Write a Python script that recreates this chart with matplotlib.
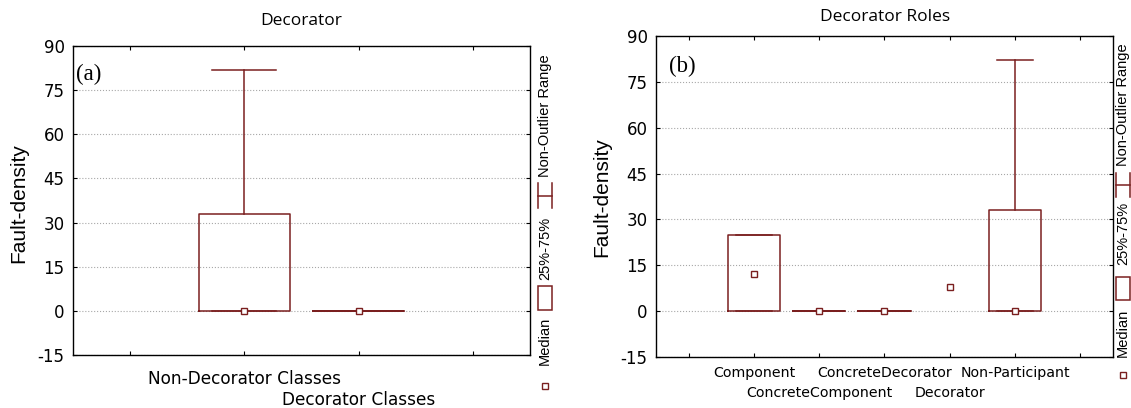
import numpy as np
import matplotlib
matplotlib.use("Agg")
import matplotlib.pyplot as plt
from matplotlib.patches import Rectangle
from matplotlib.lines import Line2D

W, H = 1131, 408
RED = "#7a1f1f"

# panel (a): Decorator
a_labels = ["Non-Decorator Classes", "Decorator Classes"]
a_q1 = [0, 0]
a_q3 = [33, 0]
a_med = [0, 0]
a_lo = [0, 0]
a_hi = [82, 0]

# panel (b): Decorator Roles (Decorator has only a median point)
b_labels = ["Component", "ConcreteComponent", "ConcreteDecorator", "Decorator", "Non-Participant"]
b_q1 = [0, 0, 0, np.nan, 0]
b_q3 = [25, 0, 0, np.nan, 33]
b_med = [12, 0, 0, 8, 0]
b_lo = [0, 0, 0, np.nan, 0]
b_hi = [25, 0, 0, np.nan, 82]

yticks = np.arange(-15, 91, 15)

plt.rcParams['font.family'] = 'DejaVu Sans'
fig = plt.figure(figsize=(W / 100, H / 100), dpi=100)


def fx(x):
    return x / W


def fy(y):
    return 1 - y / H


def panel(ax, labels, q1, q3, med, lo, hi, fs, pad1, pad2):
    n = len(labels)
    pos = np.arange(1, n + 1)
    stats, bpos = [], []
    for i in range(n):
        if np.isnan(q1[i]):
            continue
        stats.append(dict(med=med[i], q1=q1[i], q3=q3[i], whislo=lo[i], whishi=hi[i], fliers=[]))
        bpos.append(pos[i])
    lp = dict(color=RED, lw=1.1)
    ax.bxp(stats, positions=bpos, widths=0.8, capwidths=0.56, showfliers=False,
           boxprops=lp, whiskerprops=lp, capprops=lp, medianprops=dict(visible=False))
    ax.plot(pos, med, ls='none', marker='s', ms=3.8, mfc='white', mec=RED, mew=1, zorder=5)
    ax.set_xlim(-0.5, n + 1.5)
    # first row of labels on major ticks, second (staggered) row on minor ticks
    major = [0] + list(pos[::2]) + [n + 1]
    ax.set_xticks(major)
    ax.set_xticklabels([""] + labels[::2] + [""], fontsize=fs)
    ax.set_xticks(pos[1::2], minor=True)
    ax.set_xticklabels(labels[1::2], minor=True, fontsize=fs)
    ax.set_ylim(-15, 90)
    ax.set_yticks(yticks)
    ax.set_yticklabels([str(v) for v in yticks], fontsize=12)
    ax.grid(axis='y', ls=':', color='#a8a8a8', lw=0.8)
    ax.set_axisbelow(True)
    ax.tick_params(which='both', direction='in', length=3, top=True, right=True, width=0.8)
    ax.tick_params(axis='x', which='major', pad=pad1)
    ax.tick_params(axis='x', which='minor', pad=pad2)
    ax.tick_params(axis='y', pad=6)
    for s in ax.spines.values():
        s.set_linewidth(1)


def legend(xc, ym, ytxt_med, box, ytxt_box, wh, ytxt_wh, size):
    fig.add_artist(Line2D([fx(xc)], [fy(ym)], ls='none', marker='s', ms=3.8, mfc='white',
                          mec=RED, mew=1, transform=fig.transFigure))
    kw = dict(rotation=90, ha='center', va='center', fontsize=size, family='Liberation Sans')
    fig.text(fx(xc), fy(ytxt_med), "Median", **kw)
    fig.add_artist(Rectangle((fx(xc - 7), fy(box[1])), fx(14), (box[1] - box[0]) / H,
                             fill=False, ec=RED, lw=1.1, transform=fig.transFigure))
    fig.text(fx(xc), fy(ytxt_box), "25%-75%", **kw)
    ymid = (wh[0] + wh[1]) / 2
    for x in (xc - 7, xc + 7):
        fig.add_artist(Line2D([fx(x), fx(x)], [fy(wh[0]), fy(wh[1])], color=RED, lw=1.1,
                              transform=fig.transFigure))
    fig.add_artist(Line2D([fx(xc - 7), fx(xc + 7)], [fy(ymid), fy(ymid)], color=RED, lw=1.1,
                          transform=fig.transFigure))
    fig.text(fx(xc), fy(ytxt_wh), "Non-Outlier Range", **kw)


ax1 = fig.add_axes([fx(73), fy(355), fx(457), 309 / H])
panel(ax1, a_labels, a_q1, a_q3, a_med, a_lo, a_hi, 12.2, 10.5, 26)
ax2 = fig.add_axes([fx(656), fy(357), fx(457), 321 / H])
panel(ax2, b_labels, b_q1, b_q3, b_med, b_lo, b_hi, 10.2, 6.5, 21)

fig.text(fx(301), fy(21), "Decorator", ha='center', va='center', fontsize=12.5, family='Open Sans')
fig.text(fx(885), fy(17), "Decorator Roles", ha='center', va='center', fontsize=12.5, family='Open Sans')

fig.text(fx(19), fy(203), "Fault-density", rotation=90, ha='center', va='center', fontsize=15,
         family='Liberation Sans')
fig.text(fx(602), fy(197), "Fault-density", rotation=90, ha='center', va='center', fontsize=15,
         family='Liberation Sans')

fig.text(fx(76), fy(74), "(a)", ha='left', va='center', fontsize=16.5, family='Liberation Serif')
fig.text(fx(669), fy(66), "(b)", ha='left', va='center', fontsize=16.5, family='Liberation Serif')

legend(545, 386, 341, (286, 310), 248, (183, 208), 116, 10.5)
legend(1123, 375, 333, (277, 300), 233, (173, 197), 105, 10.5)

fig.savefig("out.png", dpi=100)
